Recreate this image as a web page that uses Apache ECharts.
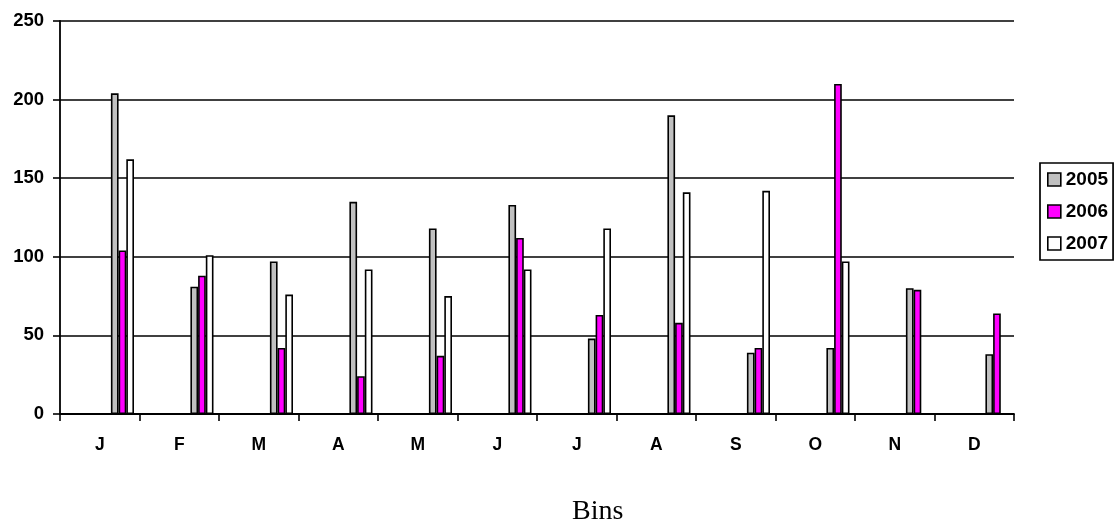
<!DOCTYPE html>
<html>
<head>
<meta charset="utf-8">
<script src="https://cdn.jsdelivr.net/npm/echarts@6/dist/echarts.min.js"></script>
<style>html,body{margin:0;padding:0;background:#fff;}#c{width:1117px;height:529px;}</style>
</head>
<body>
<div id="c"></div>
<script>
const categories = ['J','F','M','A','M','J','J','A','S','O','N','D'];
const seriesNames = ['2005','2006','2007'];
const values2005 = [204, 81, 97, 135, 118, 133, 48, 190, 39, 42, 80, 38];
const values2006 = [104, 88, 42, 24, 37, 112, 63, 58, 42, 210, 79, 64];
const values2007 = [162, 101, 76, 92, 75, 92, 118, 141, 142, 97, null, null];
const yTicks = [0, 50, 100, 150, 200, 250];
const xTitle = 'Bins';

const colors = ['#C0C0C0', '#FF00FF', '#FFFFFF'];
const allValues = [values2005, values2006, values2007];
const fontSans = 'Liberation Sans, Arial, sans-serif';

const chart = echarts.init(document.getElementById('c'), null, {renderer: 'canvas'});

const barSeries = seriesNames.map((n, i) => ({
  name: n,
  type: 'bar',
  data: allValues[i],
  barWidth: 7.7,
  barGap: '0%',
  itemStyle: {color: colors[i], borderColor: '#000', borderWidth: 1.6},
  emphasis: {disabled: true}
}));

const option = {
  animation: false,
  backgroundColor: '#fff',
  title: {
    text: xTitle,
    left: 572,
    top: 498,
    padding: 0,
    textStyle: {fontFamily: 'Liberation Serif, Times New Roman, serif', fontWeight: 'normal', fontSize: 28, color: '#000'}
  },
  legend: {
    data: seriesNames,
    orient: 'vertical',
    left: 1040,
    top: 163,
    width: 73,
    padding: [7, 5, 7, 7],
    itemWidth: 13,
    itemHeight: 13,
    itemGap: 13,
    icon: 'rect',
    borderColor: '#000',
    borderWidth: 1.7,
    itemStyle: {borderColor: '#000', borderWidth: 1.6},
    textStyle: {fontFamily: fontSans, fontWeight: 'bold', fontSize: 19, color: '#000', lineHeight: 19}
  },
  grid: {left: 60, right: 103, top: 21, bottom: 115, containLabel: false},
  xAxis: {
    type: 'category',
    data: categories,
    boundaryGap: true,
    axisLine: {lineStyle: {color: '#000', width: 1.8}},
    axisTick: {show: true, length: 7, alignWithLabel: false, lineStyle: {color: '#000', width: 1.6}},
    axisLabel: {margin: 22, fontFamily: fontSans, fontWeight: 'bold', fontSize: 17.5, color: '#000'},
    splitLine: {show: false}
  },
  yAxis: {
    type: 'value',
    min: yTicks[0],
    max: yTicks[yTicks.length - 1],
    interval: yTicks[1] - yTicks[0],
    axisLine: {show: true, lineStyle: {color: '#000', width: 1.8}},
    axisTick: {show: true, length: 7, lineStyle: {color: '#000', width: 1.6}},
    axisLabel: {margin: 16, fontFamily: fontSans, fontWeight: 'bold', fontSize: 18.5, color: '#000'},
    splitLine: {show: true, lineStyle: {color: '#000', width: 1.6}}
  },
  series: [
    {
      name: '_spacer',
      type: 'bar',
      data: categories.map(() => null),
      barWidth: 45.4,
      barGap: '0%',
      silent: true,
      itemStyle: {color: 'transparent'}
    },
    ...barSeries
  ]
};
chart.setOption(option);
</script>
</body>
</html>
